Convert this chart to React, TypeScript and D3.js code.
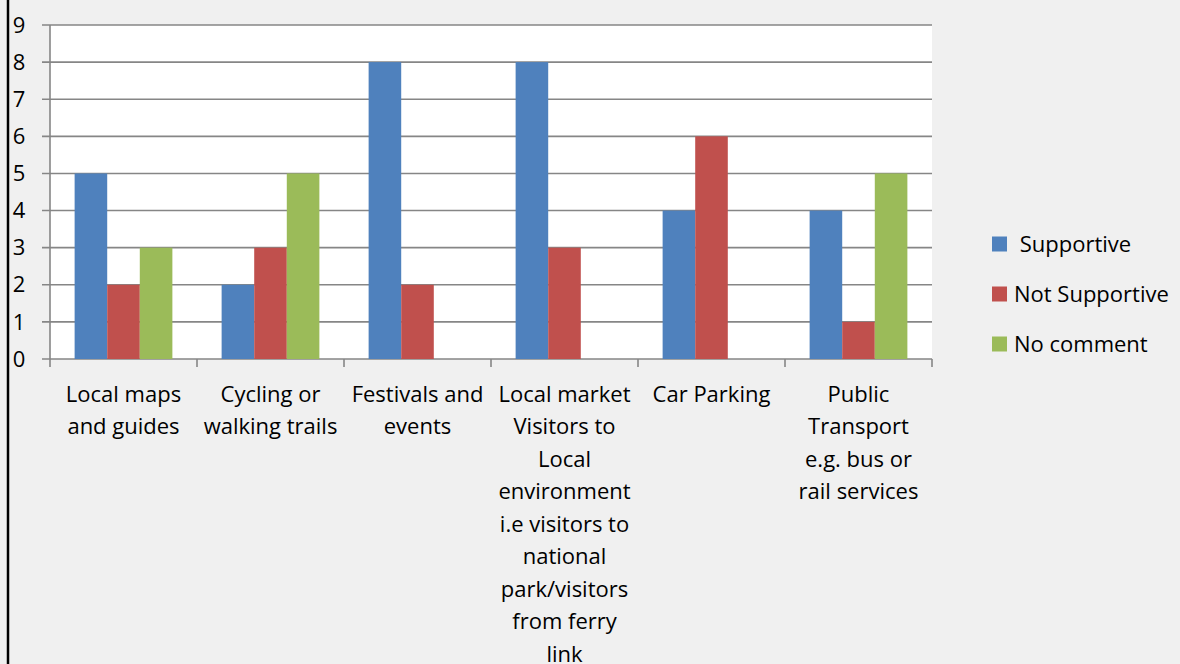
import React from "react";
import * as d3 from "d3";

const categories: string[][] = [
  ["Local maps", "and guides"],
  ["Cycling or", "walking trails"],
  ["Festivals and", "events"],
  ["Local market", "Visitors to", "Local", "environment", "i.e visitors to", "national", "park/visitors", "from ferry", "link"],
  ["Car Parking"],
  ["Public", "Transport", "e.g. bus or", "rail services"],
];
const seriesNames = ["Supportive", "Not Supportive", "No comment"];
const supportive = [5, 2, 8, 8, 4, 4];
const notSupportive = [2, 3, 2, 3, 6, 1];
const noComment = [3, 5, 0, 0, 0, 5];
const seriesValues = [supportive, notSupportive, noComment];
const colors = ["#4F81BD", "#C0504D", "#9BBB59"];
const yTicks = [0, 1, 2, 3, 4, 5, 6, 7, 8, 9];

const W = 1180;
const H = 664;
const FONT = "'Open Sans', sans-serif";
const FS = 22;

export default function App() {
  const left = 50, right = 932, top = 25, bottom = 359;
  const x0 = d3.scaleBand<number>().domain(d3.range(categories.length)).range([left, right]).paddingInner(0.335).paddingOuter(0.1675);
  const xStep = (right - left) / categories.length;
  const x1 = d3.scaleBand<number>().domain([0, 1, 2]).range([0, x0.bandwidth()]);
  const y = d3.scaleLinear().domain([0, 9]).range([bottom, top]);
  const gridColor = "#868686";

  return (
    <svg width={W} height={H} style={{ position: "absolute", left: 0, top: 0, background: "#f0f0f0" }} fontFamily={FONT}>
      <rect x={0} y={0} width={W} height={H} fill="#f0f0f0" />
      <line x1={8} x2={8} y1={0} y2={H} stroke="#000" strokeWidth={2.5} />
      <rect x={left} y={top} width={right - left} height={bottom - top} fill="#fff" />
      {yTicks.map((t) => (
        <g key={t}>
          <line x1={left - 8} x2={right} y1={y(t)} y2={y(t)} stroke={gridColor} strokeWidth={1.6} />
          <text x={19} y={y(t)} dy="0.35em" textAnchor="middle" fontSize={FS} fill="#000">{t}</text>
        </g>
      ))}
      <line x1={left} x2={left} y1={top} y2={bottom} stroke={gridColor} strokeWidth={1.6} />
      {d3.range(categories.length + 1).map((i) => (
        <line key={i} x1={left + i * xStep} x2={left + i * xStep} y1={bottom} y2={bottom + 8} stroke={gridColor} strokeWidth={1.6} />
      ))}
      {categories.map((_, ci) => (
        <g key={ci} transform={`translate(${x0(ci)},0)`}>
          {seriesValues.map((vals, si) => (
            vals[ci] > 0 ? (
              <rect key={si} x={x1(si)} y={y(vals[ci])} width={x1.bandwidth()} height={y(0) - y(vals[ci])} fill={colors[si]} />
            ) : null
          ))}
        </g>
      ))}
      {categories.map((lines, ci) => (
        <text key={ci} x={left + (ci + 0.5) * xStep} y={394} textAnchor="middle" fontSize={FS} fill="#000">
          {lines.map((l, li) => (
            <tspan key={li} x={left + (ci + 0.5) * xStep} y={394 + li * 32.5} dy="0.35em">{l}</tspan>
          ))}
        </text>
      ))}
      {seriesNames.map((n, i) => (
        <g key={n}>
          <rect x={992} y={244 + i * 50 - 7.5} width={15} height={15} fill={colors[i]} />
          <text x={1014} y={244 + i * 50} dy="0.35em" fontSize={FS} fill="#000">{i === 0 ? "\u00a0" + n : n}</text>
        </g>
      ))}
    </svg>
  );
}
